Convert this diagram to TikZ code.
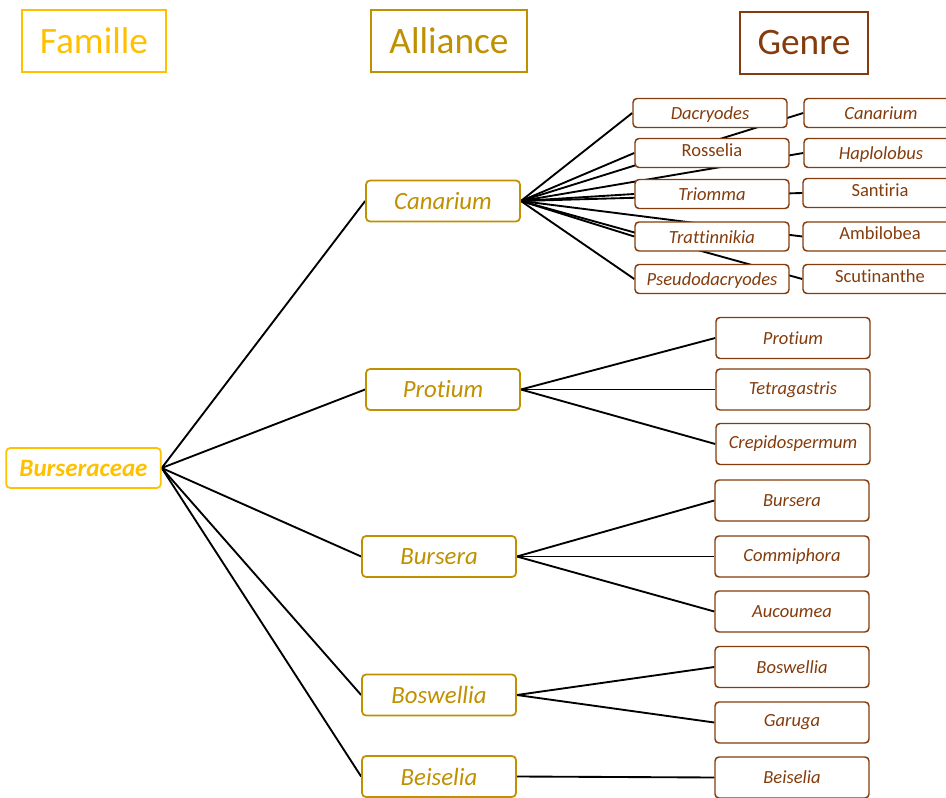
\documentclass[tikz,border=0pt]{standalone}
\usepackage{fontspec}
\setmainfont{Carlito}[Ligatures=NoCommon]
\usetikzlibrary{backgrounds}
\definecolor{jaune}{RGB}{255, 192, 0}
\definecolor{ocre}{RGB}{191, 144, 0}
\definecolor{brun}{RGB}{132, 60, 12}

\begin{document}
\begin{tikzpicture}[x=0.75pt, y=-0.75pt, thick,
  titre/.style={draw, line width=1.5pt, minimum height=46.5pt, inner sep=0pt,
    font=\fontsize{28}{30}\selectfont},
  boite/.style={draw, fill=white, rounded corners=3pt, line width=1.3pt,
    minimum width=115.5pt, minimum height=30.75pt, inner sep=1pt},
  famille/.style={boite, draw=jaune, text=jaune, minimum width=116pt, minimum height=30pt,
    font=\fontsize{18.75}{20}\selectfont\bfseries\itshape},
  alliance/.style={boite, draw=ocre, text=ocre, font=\fontsize{18.6}{20}\selectfont\itshape},
  genre/.style={boite, draw=brun, text=brun, line width=1.1pt,
    font=\fontsize{13.9}{15}\selectfont\itshape},
  petit/.style={genre, minimum height=21.75pt, text height=10pt, text depth=0pt},
  droit/.style={petit, font=\fontsize{13.9}{15}\selectfont, text depth=5pt},
  lien/.style={line width=1.4pt}]

  \useasboundingbox (0, 0) rectangle (946, 798);

  % titres
  \node[titre, color=jaune, minimum width=108pt] (fam) at (94, 41) {Famille};
  \node[titre, color=ocre, minimum width=117pt] (all) at (449, 41) {Alliance};
  \node[titre, color=brun, minimum width=96pt] (gen) at (804, 43) {Genre};

  \node[famille] (burs) at (83.5, 468) {Burseraceae};

  \node[alliance] (aCan) at (443, 201) {Canarium};
  \node[alliance] (aPro) at (443, 389.5) {Protium};
  \node[alliance] (aBur) at (439, 556.5) {Bursera};
  \node[alliance] (aBos) at (439, 695) {Boswellia};
  \node[alliance] (aBei) at (439, 776.5) {Beiselia};

  % alliance Canarium
  \node[petit] (gDac) at (710, 113) {Dacryodes};
  \node[droit] (gRos) at (712, 153) {Rosselia};
  \node[petit] (gTri) at (712, 194) {Triomma};
  \node[petit] (gTra) at (712, 236.5) {Trattinnikia};
  \node[petit] (gPse) at (712, 279) {Pseudodacryodes};
  \node[petit] (gCan) at (881, 113) {Canarium};
  \node[petit] (gHap) at (881, 153) {Haplolobus};
  \node[droit] (gSan) at (880, 193) {Santiria};
  \node[droit] (gAmb) at (880, 236.5) {Ambilobea};
  \node[droit] (gScu) at (880, 279) {Scutinanthe};

  \node[genre] (gPro) at (793, 338) {Protium};
  \node[genre] (gTet) at (793, 389.5) {Tetragastris};
  \node[genre] (gCre) at (793, 444) {Crepidospermum};
  \node[genre] (gBur) at (792, 500.5) {Bursera};
  \node[genre] (gCom) at (792, 556.5) {Commiphora};
  \node[genre] (gAuc) at (792, 611.5) {Aucoumea};
  \node[genre] (gBos) at (792, 667) {Boswellia};
  \node[genre] (gGar) at (792, 722.5) {Garuga};
  \node[genre] (gBei) at (792, 777.5) {Beiselia};

  \begin{scope}[on background layer]
    \foreach \a in {aCan, aPro, aBur, aBos, aBei}
      \draw[lien] (burs.east) -- (\a.west);
    \foreach \g in {gDac, gRos, gTri, gTra, gPse, gCan, gHap, gSan, gAmb, gScu}
      \draw[lien] (aCan.east) -- (\g.west);
    \foreach \g in {gPro, gTet, gCre}
      \draw[lien] (aPro.east) -- (\g.west);
    \foreach \g in {gBur, gCom, gAuc}
      \draw[lien] (aBur.east) -- (\g.west);
    \foreach \g in {gBos, gGar}
      \draw[lien] (aBos.east) -- (\g.west);
    \draw[lien] (aBei.east) -- (gBei.west);
  \end{scope}

\end{tikzpicture}
\end{document}
